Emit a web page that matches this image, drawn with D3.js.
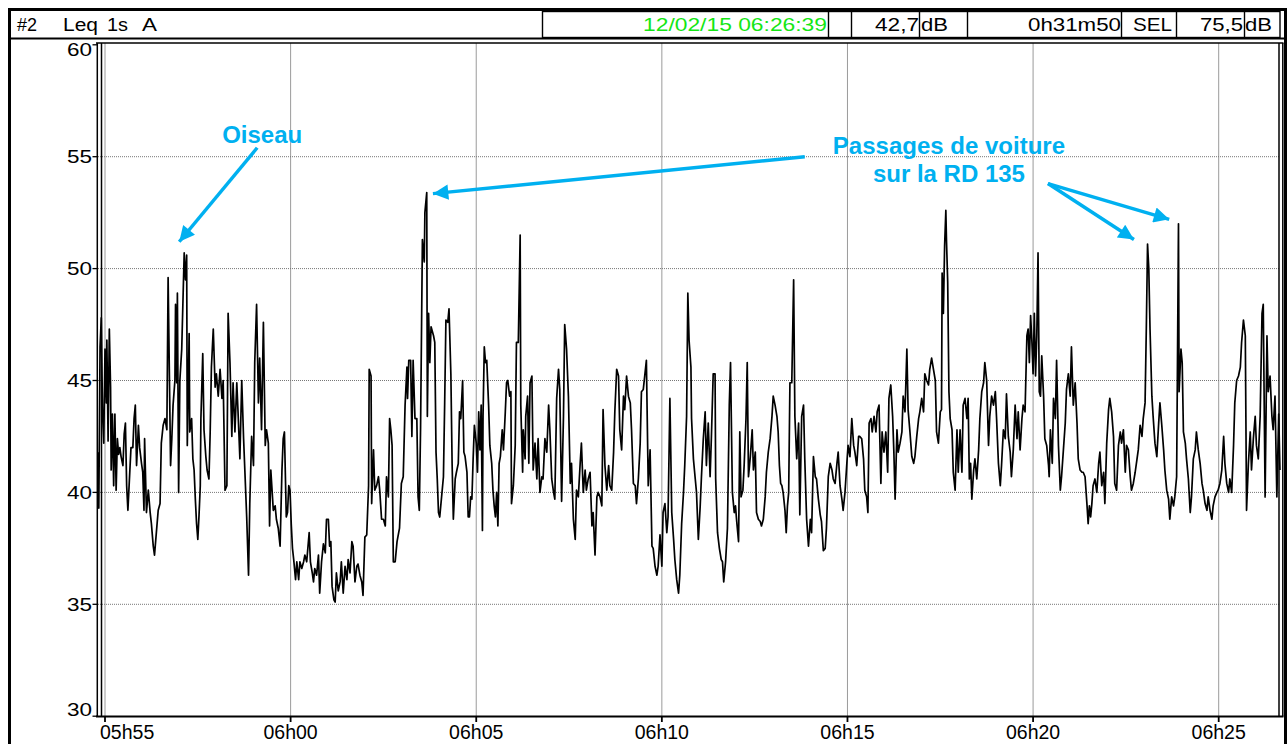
<!DOCTYPE html>
<html>
<head>
<meta charset="utf-8">
<script src="https://cdn.jsdelivr.net/npm/d3@7"></script>
<style>
  body { margin: 0; background: #fff; }
  text { font-family: "Liberation Sans", Arial, sans-serif; }
</style>
</head>
<body>
<div id="chart"></div>
<script>
// header of the sound level meter screen
var channel = "#2", measure = ["Leq", "1s", "A"];
var cursorDate = "12/02/15 06:26:39", cursorLevel = "42,7", duration = "0h31m50", selLevel = "75,5";

// time axis
var startTime = "05:54:49";           // first 1 s sample
var xTicks = ["05:55", "06:00", "06:05", "06:10", "06:15", "06:20", "06:25"];
var xTickLabels = ["05h55", "06h00", "06h05", "06h10", "06h15", "06h20", "06h25"];
var yTicks = [30, 35, 40, 45, 50, 55, 60];

// Leq 1s (dB A) : [seconds since startTime, level]
var leqPart1 = [[0,41.8],[1,39.3],[3,46.5],[5,47.8],[7,43.5],[9,42.2],[11,46.4],[13,44.0],[14,46.8],[16,42.3],[18,47.3],[20,44.7],[21,41.0],[23,43.5],[25,40.3],[27,43.5],[29,40.1],[31,42.4],[33,41.7],[35,42.0],[37,41.6],[40,41.2],[42,42.6],[44,43.1],[46,40.3],[48,39.2],[53,42.0],[56,42.0],[58,43.3],[60,43.9],[62,41.2],[65,43.0],[67,42.0],[70,41.3],[72,40.9],[74,39.2],[75,42.4],[78,39.1],[81,40.1],[84,39.1],[86,38.6],[89,37.6],[91,37.2],[94,38.2],[97,39.2],[100,39.5],[102,42.2],[105,43.0],[108,43.3],[111,42.8],[113,49.6],[117,41.2],[119,42.4],[121,43.9],[124,45.0],[125,48.4],[127,44.9],[128,48.9],[130,40.0],[132,45.0],[135,46.4],[139,50.7],[141,49.5],[143,50.6],[144,42.1],[147,47.1],[148,42.7],[151,43.3],[153,41.5],[155,41.0],[157,39.7],[159,38.6],[161,37.9],[163,39.0],[165,40.3],[166,43.3],[169,46.2],[171,42.8],[174,41.6],[176,41.0],[179,40.6],[181,42.7],[183,45.6],[186,47.3],[189,44.7],[191,45.3],[194,44.3],[197,45.5],[200,44.2],[202,45.0],[205,40.1],[208,40.3],[210,48.0],[213,45.8],[216,42.5],[218,44.9],[221,42.7],[224,44.9],[226,43.6],[229,41.5],[232,45.0],[235,42.4],[237,41.0],[240,38.9],[243,36.3],[245,39.5],[248,42.5],[251,41.2],[253,45.8],[256,48.4],[259,44.0],[261,46.0],[264,42.8],[267,47.6],[270,42.1],[272,42.8],[275,42.2],[277,38.5],[279,41.0],[281,40.1],[283,39.2],[286,39.4],[288,38.8],[291,38.4],[294,37.6],[297,41.0],[299,42.4],[301,42.7],[304,38.9],[306,39.1],[308,40.3],[310,40.1],[312,38.6],[314,37.5],[316,37.0],[319,36.1],[321,36.9],[324,36.1],[326,36.9],[329,36.6],[332,36.9],[334,37.2],[337,36.9],[341,38.2],[343,36.9],[346,36.4],[348,36.0],[350,36.6],[353,36.3],[356,37.2]];
var leqPart2 = [[358,35.5],[361,36.9],[364,37.7],[367,37.3],[369,38.8],[372,38.8],[374,37.6],[376,37.8],[378,35.8],[381,35.2],[383,35.1],[385,36.4],[388,35.6],[391,36.0],[393,36.9],[396,35.5],[399,36.7],[402,36.1],[404,37.0],[407,36.4],[410,37.8],[412,37.6],[415,36.0],[418,36.7],[420,36.8],[423,36.3],[426,36.0],[428,35.4],[431,38.0],[434,38.1],[437,40.3],[438,45.5],[441,45.2],[442,39.5],[445,41.9],[447,40.1],[450,40.3],[453,40.7],[455,40.1],[458,38.8],[461,38.8],[464,38.5],[466,40.7],[469,39.8],[471,43.3],[473,42.8],[475,42.1],[477,36.9],[480,36.9],[483,37.8],[487,38.4],[490,40.4],[493,40.7],[496,43.9],[499,45.6],[500,44.2],[502,45.9],[505,45.9],[507,42.5],[509,45.9],[512,43.3],[515,43.3],[517,39.8],[519,39.2],[521,42.8],[524,51.3],[527,50.3],[528,52.5],[531,53.4],[532,43.4],[534,48.0],[536,45.8],[538,47.4],[542,47.0],[544,46.7],[546,41.8],[548,40.6],[550,39.1],[552,38.9],[555,39.8],[558,40.7],[560,44.0],[562,47.7],[565,47.6],[567,48.2],[570,45.3],[572,41.3],[574,38.8],[577,40.6],[579,40.9],[582,41.3],[584,43.6],[586,43.3],[589,45.0],[591,41.8],[593,41.6],[596,40.9],[598,38.9],[600,38.9],[602,39.8],[604,39.7],[606,41.5],[608,43.0],[611,42.2],[613,40.9],[615,43.6],[617,41.9],[619,43.9],[621,38.3],[622,43.4],[624,46.5],[626,45.8],[628,45.9],[631,43.9],[633,42.1],[636,41.3],[638,40.1],[640,39.4],[642,38.9],[644,40.0],[646,38.5],[648,41.3],[650,41.6],[653,42.8],[655,41.9],[658,43.6],[660,44.9],[662,45.0],[665,44.3],[667,44.5],[668,39.5],[671,40.3],[674,42.1],[676,46.7],[679,46.7],[682,51.5],[683,43.9],[686,40.9],[687,42.8],[690,41.5],[691,43.4],[694,44.3],[696,41.3],[698,44.9],[701,45.2],[703,41.0],[706,42.2],[709,40.6],[711,42.4],[714,40.0],[717,40.7],[719,40.6],[722,42.4],[725,41.8],[728,43.9],[730,42.8],[733,40.6],[736,40.0],[738,39.7],[741,44.2],[744,45.5],[746,44.6],[749,39.6],[752,43.4],[754,47.5],[757,46.4],[760,44.3],[763,40.4],[765,41.3],[768,38.8],[771,37.9],[773,40.1],[776,39.8],[779,41.3],[781,42.2],[784,40.0],[787,41.0],[789,40.1],[792,40.6],[795,40.9],[798,38.5],[800,39.1],[803,37.2],[806,39.8],[808,40.0],[811,39.8],[814,39.4],[816,43.7],[819,41.2],[822,40.1],[825,41.2],[827,40.3],[830,40.1],[833,41.8],[835,43.6],[838,45.5],[841,45.2],[843,42.8],[846,41.9],[849,44.3],[851,43.7],[854,45.2],[857,44.3],[860,44.0],[862,42.8],[865,40.4],[868,40.3],[870,39.5],[873,40.6],[876,42.2],[878,44.5],[881,44.6]];
var leqPart3 = [[886,45.9],[889,40.3],[892,41.9],[895,37.6],[897,37.5],[900,36.7],[903,36.3],[905,36.7],[908,38.1],[911,36.7],[913,39.1],[916,39.5],[919,38.2],[921,38.9],[924,44.2],[927,39.1],[930,37.9],[932,37.0],[935,36.1],[938,35.5],[940,36.3],[943,38.6],[946,40.0],[948,41.2],[951,43.4],[953,48.9],[955,46.8],[958,45.6],[959,43.3],[962,41.5],[965,40.6],[967,40.0],[970,37.9],[973,39.4],[975,40.7],[978,42.4],[981,43.6],[983,41.2],[986,43.1],[989,40.7],[991,42.4],[994,45.3],[997,45.3],[998,40.6],[1001,38.2],[1004,37.5],[1007,37.0],[1009,36.9],[1011,36.0],[1014,36.9],[1017,38.4],[1020,43.9],[1022,45.8],[1025,40.0],[1028,39.1],[1030,39.4],[1032,38.7],[1035,37.8],[1037,42.7],[1039,39.8],[1042,40.1],[1044,41.2],[1047,43.3],[1049,45.8],[1051,40.7],[1054,41.6],[1057,42.8],[1059,41.0],[1062,41.8],[1064,39.1],[1067,38.8],[1070,38.7],[1072,38.5],[1075,38.8],[1078,39.8],[1080,40.9],[1083,41.8],[1086,42.4],[1089,43.4],[1091,44.3],[1094,43.9],[1097,43.4],[1099,42.7],[1101,41.2],[1103,40.4],[1105,40.3],[1107,40.0],[1110,39.2],[1112,38.2],[1114,39.4],[1116,40.0],[1118,44.9],[1121,44.9],[1124,49.5],[1126,43.4],[1129,41.5],[1132,43.1],[1134,39.0],[1137,43.4],[1140,43.9],[1142,41.5],[1145,38.8],[1148,37.6],[1151,38.8],[1153,38.2],[1156,41.6],[1159,40.7],[1161,40.6],[1164,39.7],[1167,39.0],[1169,38.7],[1172,37.4],[1175,37.5],[1177,38.4],[1180,40.7],[1183,41.3],[1186,41.0],[1188,40.6],[1191,40.4],[1194,41.3],[1196,41.8],[1199,40.3],[1202,39.7],[1204,39.2],[1207,40.0],[1210,41.3],[1212,42.1],[1215,41.6],[1218,43.3],[1221,42.1],[1223,41.8],[1226,41.2],[1229,42.5],[1231,42.5],[1234,42.4],[1237,41.5],[1239,40.1],[1242,39.8],[1244,39.1],[1246,43.1],[1249,43.3],[1251,42.7],[1254,43.4],[1257,42.7],[1259,43.6],[1262,43.9],[1265,40.4],[1267,42.7],[1270,41.8],[1273,42.7],[1276,40.9],[1278,44.2],[1281,44.8],[1284,43.4],[1286,41.8],[1288,39.7],[1291,42.8],[1293,41.8],[1296,42.2],[1299,42.7],[1301,44.3],[1304,43.6],[1307,46.4],[1309,43.7],[1312,42.7],[1315,41.6],[1318,41.3],[1320,41.6],[1323,42.5],[1326,43.3],[1328,43.6],[1331,44.2],[1334,43.6],[1336,45.3],[1339,45.0],[1342,44.8],[1344,45.5],[1347,46.0],[1350,45.5],[1353,45.0],[1355,42.7],[1358,42.2],[1361,43.6],[1363,43.7],[1364,49.8],[1366,48.0],[1368,51.0],[1370,52.6],[1371,51.3],[1373,49.4],[1375,44.5],[1377,43.3],[1380,42.8],[1382,40.9],[1385,40.1],[1388,42.8],[1390,40.9],[1393,42.8],[1396,40.9],[1398,43.9],[1401,44.2]];
var leqPart4 = [[1404,43.3],[1406,44.2],[1408,40.6],[1410,41.3],[1412,39.7],[1415,41.0],[1417,41.5],[1420,40.6],[1423,41.9],[1425,43.3],[1428,44.5],[1431,44.9],[1433,45.8],[1436,45.0],[1439,42.1],[1441,43.4],[1444,44.3],[1447,43.9],[1450,44.5],[1452,43.3],[1455,41.3],[1458,40.3],[1460,41.2],[1463,42.8],[1466,42.4],[1468,44.4],[1471,42.5],[1474,41.8],[1476,40.7],[1479,41.9],[1482,43.9],[1485,42.4],[1487,43.6],[1490,41.9],[1493,43.3],[1495,43.9],[1498,43.6],[1501,47.0],[1503,47.3],[1505,45.8],[1507,47.9],[1509,46.8],[1511,45.3],[1513,48.0],[1515,45.2],[1517,47.0],[1519,50.7],[1521,44.5],[1523,44.3],[1525,46.1],[1528,44.3],[1530,42.4],[1533,42.1],[1536,41.2],[1537,40.7],[1539,42.8],[1542,41.3],[1544,44.2],[1547,43.3],[1549,45.9],[1552,42.1],[1555,40.1],[1557,40.7],[1560,41.9],[1563,43.1],[1565,44.6],[1568,45.3],[1571,44.3],[1573,46.5],[1576,43.9],[1579,44.9],[1582,43.1],[1584,41.5],[1587,41.0],[1590,40.9],[1592,40.9],[1595,40.7],[1598,39.5],[1600,38.6],[1602,39.4],[1604,38.9],[1606,39.5],[1608,40.3],[1611,40.6],[1614,40.0],[1617,41.3],[1619,41.8],[1622,40.3],[1625,40.9],[1627,39.5],[1630,42.2],[1633,43.7],[1635,44.2],[1638,43.6],[1641,42.5],[1643,40.4],[1646,40.1],[1649,42.1],[1652,42.7],[1654,42.2],[1657,42.8],[1660,40.9],[1662,42.1],[1665,41.9],[1668,40.7],[1670,40.1],[1673,40.4],[1676,40.9],[1679,41.5],[1681,41.9],[1684,43.0],[1687,42.5],[1689,43.3],[1692,44.0],[1694,47.3],[1696,51.1],[1698,50.0],[1700,47.3],[1703,44.3],[1705,43.4],[1708,42.2],[1711,41.6],[1714,43.1],[1716,44.0],[1719,43.0],[1722,41.9],[1724,41.0],[1727,40.1],[1730,39.7],[1732,38.8],[1735,39.8],[1738,39.4],[1740,39.8],[1743,40.7],[1746,52.0],[1747,44.5],[1750,46.4],[1752,45.8],[1754,42.7],[1757,42.2],[1759,41.5],[1762,40.6],[1765,39.1],[1767,39.8],[1770,41.5],[1773,41.9],[1775,42.7],[1778,41.9],[1781,41.3],[1784,40.4],[1786,40.1],[1789,39.5],[1792,39.2],[1794,39.8],[1797,39.2],[1800,38.8],[1802,39.4],[1805,39.8],[1808,40.0],[1810,40.1],[1813,40.4],[1816,41.0],[1819,42.5],[1821,41.3],[1824,40.4],[1827,40.0],[1829,40.6],[1832,40.0],[1835,42.1],[1837,44.0],[1840,45.0],[1843,45.2],[1846,45.6],[1848,46.7],[1851,47.7],[1854,47.0],[1856,39.2],[1859,41.3],[1862,42.7],[1864,41.0],[1867,42.4],[1870,43.4],[1872,42.1],[1875,41.5],[1878,43.4],[1881,48.0],[1883,48.4],[1886,39.8],[1889,47.0],[1891,44.5],[1894,45.2],[1897,43.4],[1899,42.8],[1902,44.3],[1905,39.8],[1908,43.5],[1910,41.0]];

// annotations, positioned in data units [seconds since start, dB]
var notes = [
  { lines: ["Oiseau"], at: [265, 55.6] },
  { lines: ["Passages de voiture", "sur la RD 135"], at: [1375, 55.1] }
];
var arrows = [
  { from: [257, 55.4], to: [131, 51.2] },
  { from: [1142, 55.0], to: [541, 53.35] },
  { from: [1535, 53.8], to: [1674, 51.3] },
  { from: [1535, 53.8], to: [1731, 52.2] }
];

var W = 1287, H = 744;
var plot = { left: 98, right: 1280, top: 43, bottom: 716.5 };
var blue = "#00b0f0";

var svg = d3.select("#chart").append("svg")
    .attr("width", W).attr("height", H)
    .style("display", "block");

var parseT = d3.timeParse("%H:%M:%S"), parseHM = d3.timeParse("%H:%M");
var t0 = parseT(startTime);
function at(s) { return new Date(t0.getTime() + s * 1000); }

// 05h55 -> 06h25 spans the grid
var x = d3.scaleTime()
    .domain([parseHM("05:55"), parseHM("06:25")])
    .range([105, 1218.7]);
var y = d3.scaleLinear()
    .domain([30, 60])
    .range([716.2, 44.8]);

// grid
svg.append("g").selectAll("line")
    .data(xTicks).enter().append("line")
    .attr("x1", function (d) { return x(parseHM(d)); })
    .attr("x2", function (d) { return x(parseHM(d)); })
    .attr("y1", plot.top).attr("y2", plot.bottom)
    .attr("stroke", "#9a9a9a").attr("stroke-width", 1);
svg.append("g").selectAll("line")
    .data(yTicks.filter(function (d) { return d > 30 && d < 60; })).enter().append("line")
    .attr("x1", plot.left).attr("x2", plot.right)
    .attr("y1", function (d) { return y(d); })
    .attr("y2", function (d) { return y(d); })
    .attr("stroke", "#777").attr("stroke-width", 1)
    .attr("stroke-dasharray", "1,1");

// the trace
var levels = leqPart1.concat(leqPart2, leqPart3, leqPart4);
svg.append("path")
    .datum(levels)
    .attr("fill", "none")
    .attr("stroke", "#000")
    .attr("stroke-width", 1.7)
    .attr("stroke-linejoin", "round")
    .attr("d", d3.line()
        .x(function (d) { return x(at(d[0])); })
        .y(function (d) { return y(d[1]); }));

// plot frame (double lines left and right, like the meter screen)
var frame = svg.append("g").attr("stroke", "#000").attr("fill", "none");
frame.append("line").attr("x1", 96).attr("x2", 1283.5).attr("y1", plot.top).attr("y2", plot.top).attr("stroke-width", 1.5);
[97.3, 101.5, 1279, 1282.8].forEach(function (xx) {
    frame.append("line").attr("x1", xx).attr("x2", xx).attr("y1", plot.top).attr("y2", plot.bottom).attr("stroke-width", 1.5);
});
frame.append("line").attr("x1", 96).attr("x2", 1283.5).attr("y1", plot.bottom).attr("y2", plot.bottom).attr("stroke-width", 2);

// y axis ticks + labels
var yAxis = svg.append("g");
yAxis.selectAll("line").data(yTicks).enter().append("line")
    .attr("x1", 92.5).attr("x2", 97)
    .attr("y1", function (d) { return y(d); })
    .attr("y2", function (d) { return y(d); })
    .attr("stroke", "#000").attr("stroke-width", 1.3);
yAxis.selectAll("text").data(yTicks).enter().append("text")
    .attr("x", 92).attr("text-anchor", "end")
    .attr("y", function (d) {
        if (d === 60) return y(d) + 11;
        if (d === 30) return y(d) - 0.5;
        return y(d) + 6.2;
    })
    .attr("font-size", 17.5)
    .attr("textLength", 25).attr("lengthAdjust", "spacingAndGlyphs")
    .text(function (d) { return d; });

// x axis ticks + labels
var xAxis = svg.append("g");
xAxis.selectAll("line").data(xTicks).enter().append("line")
    .attr("x1", function (d) { return x(parseHM(d)); })
    .attr("x2", function (d) { return x(parseHM(d)); })
    .attr("y1", plot.bottom).attr("y2", plot.bottom + 5.5)
    .attr("stroke", "#000").attr("stroke-width", 1.8);
xAxis.selectAll("text").data(xTicks).enter().append("text")
    .attr("x", function (d, i) { return i === 0 ? x(parseHM(d)) - 5 : x(parseHM(d)); })
    .attr("text-anchor", function (d, i) { return i === 0 ? "start" : "middle"; })
    .attr("y", 738.5)
    .attr("font-size", 19.5)
    .text(function (d, i) { return xTickLabels[i]; });

// header bar
var hdr = svg.append("g");
hdr.append("rect").attr("x", 9.5).attr("y", 9.5).attr("width", 1276).attr("height", 800)
    .attr("fill", "none").attr("stroke", "#000").attr("stroke-width", 3);
hdr.append("line").attr("x1", 9).attr("x2", 1286).attr("y1", 38.5).attr("y2", 38.5)
    .attr("stroke", "#000").attr("stroke-width", 2);
hdr.append("rect").attr("x", 542.5).attr("y", 11.5).attr("width", 737.5).attr("height", 26)
    .attr("fill", "none").attr("stroke", "#000").attr("stroke-width", 1.4);
[828.5, 851.5, 919.5, 967.5, 1121.5, 1176.5, 1244.5].forEach(function (xx) {
    hdr.append("line").attr("x1", xx).attr("x2", xx).attr("y1", 11).attr("y2", 38)
        .attr("stroke", "#000").attr("stroke-width", 1.4);
});

var hdrTexts = [
    { t: channel, x: 17, w: 20 },
    { t: measure[0], x: 63, w: 35 },
    { t: measure[1], x: 107, w: 21 },
    { t: measure[2], x: 142, w: 15 },
    { t: cursorDate, x: 643, w: 184, c: "#14e614" },
    { t: cursorLevel, x: 875, w: 44 },
    { t: "dB", x: 921, w: 27 },
    { t: duration, x: 1028, w: 93 },
    { t: "SEL", x: 1133, w: 39 },
    { t: selLevel, x: 1200, w: 43 },
    { t: "dB", x: 1245, w: 27 }
];
hdr.selectAll("text.h").data(hdrTexts).enter().append("text")
    .attr("class", "h")
    .attr("x", function (d) { return d.x; })
    .attr("y", 31)
    .attr("font-size", 17.5)
    .attr("fill", function (d) { return d.c || "#000"; })
    .attr("textLength", function (d) { return d.w; })
    .attr("lengthAdjust", "spacingAndGlyphs")
    .text(function (d) { return d.t; });

// annotations
var defs = svg.append("defs");
defs.append("marker")
    .attr("id", "head")
    .attr("viewBox", "0 0 10 10")
    .attr("refX", 10).attr("refY", 5)
    .attr("markerWidth", 5.2).attr("markerHeight", 4.4)
    .attr("markerUnits", "strokeWidth")
    .attr("orient", "auto")
    .append("path").attr("d", "M0,0 L10,5 L0,10 Z").attr("fill", blue);

svg.append("g").selectAll("line")
    .data(arrows).enter().append("line")
    .attr("x1", function (d) { return x(at(d.from[0])); })
    .attr("y1", function (d) { return y(d.from[1]); })
    .attr("x2", function (d) { return x(at(d.to[0])); })
    .attr("y2", function (d) { return y(d.to[1]); })
    .attr("stroke", blue).attr("stroke-width", 3.5)
    .attr("marker-end", "url(#head)");

notes.forEach(function (n) {
    var txt = svg.append("text")
        .attr("text-anchor", "middle")
        .attr("font-size", 24).attr("font-weight", "bold")
        .attr("fill", blue);
    n.lines.forEach(function (l, i) {
        txt.append("tspan")
            .attr("x", x(at(n.at[0])))
            .attr("y", y(n.at[1]) + i * 28)
            .text(l);
    });
});
</script>
</body>
</html>
